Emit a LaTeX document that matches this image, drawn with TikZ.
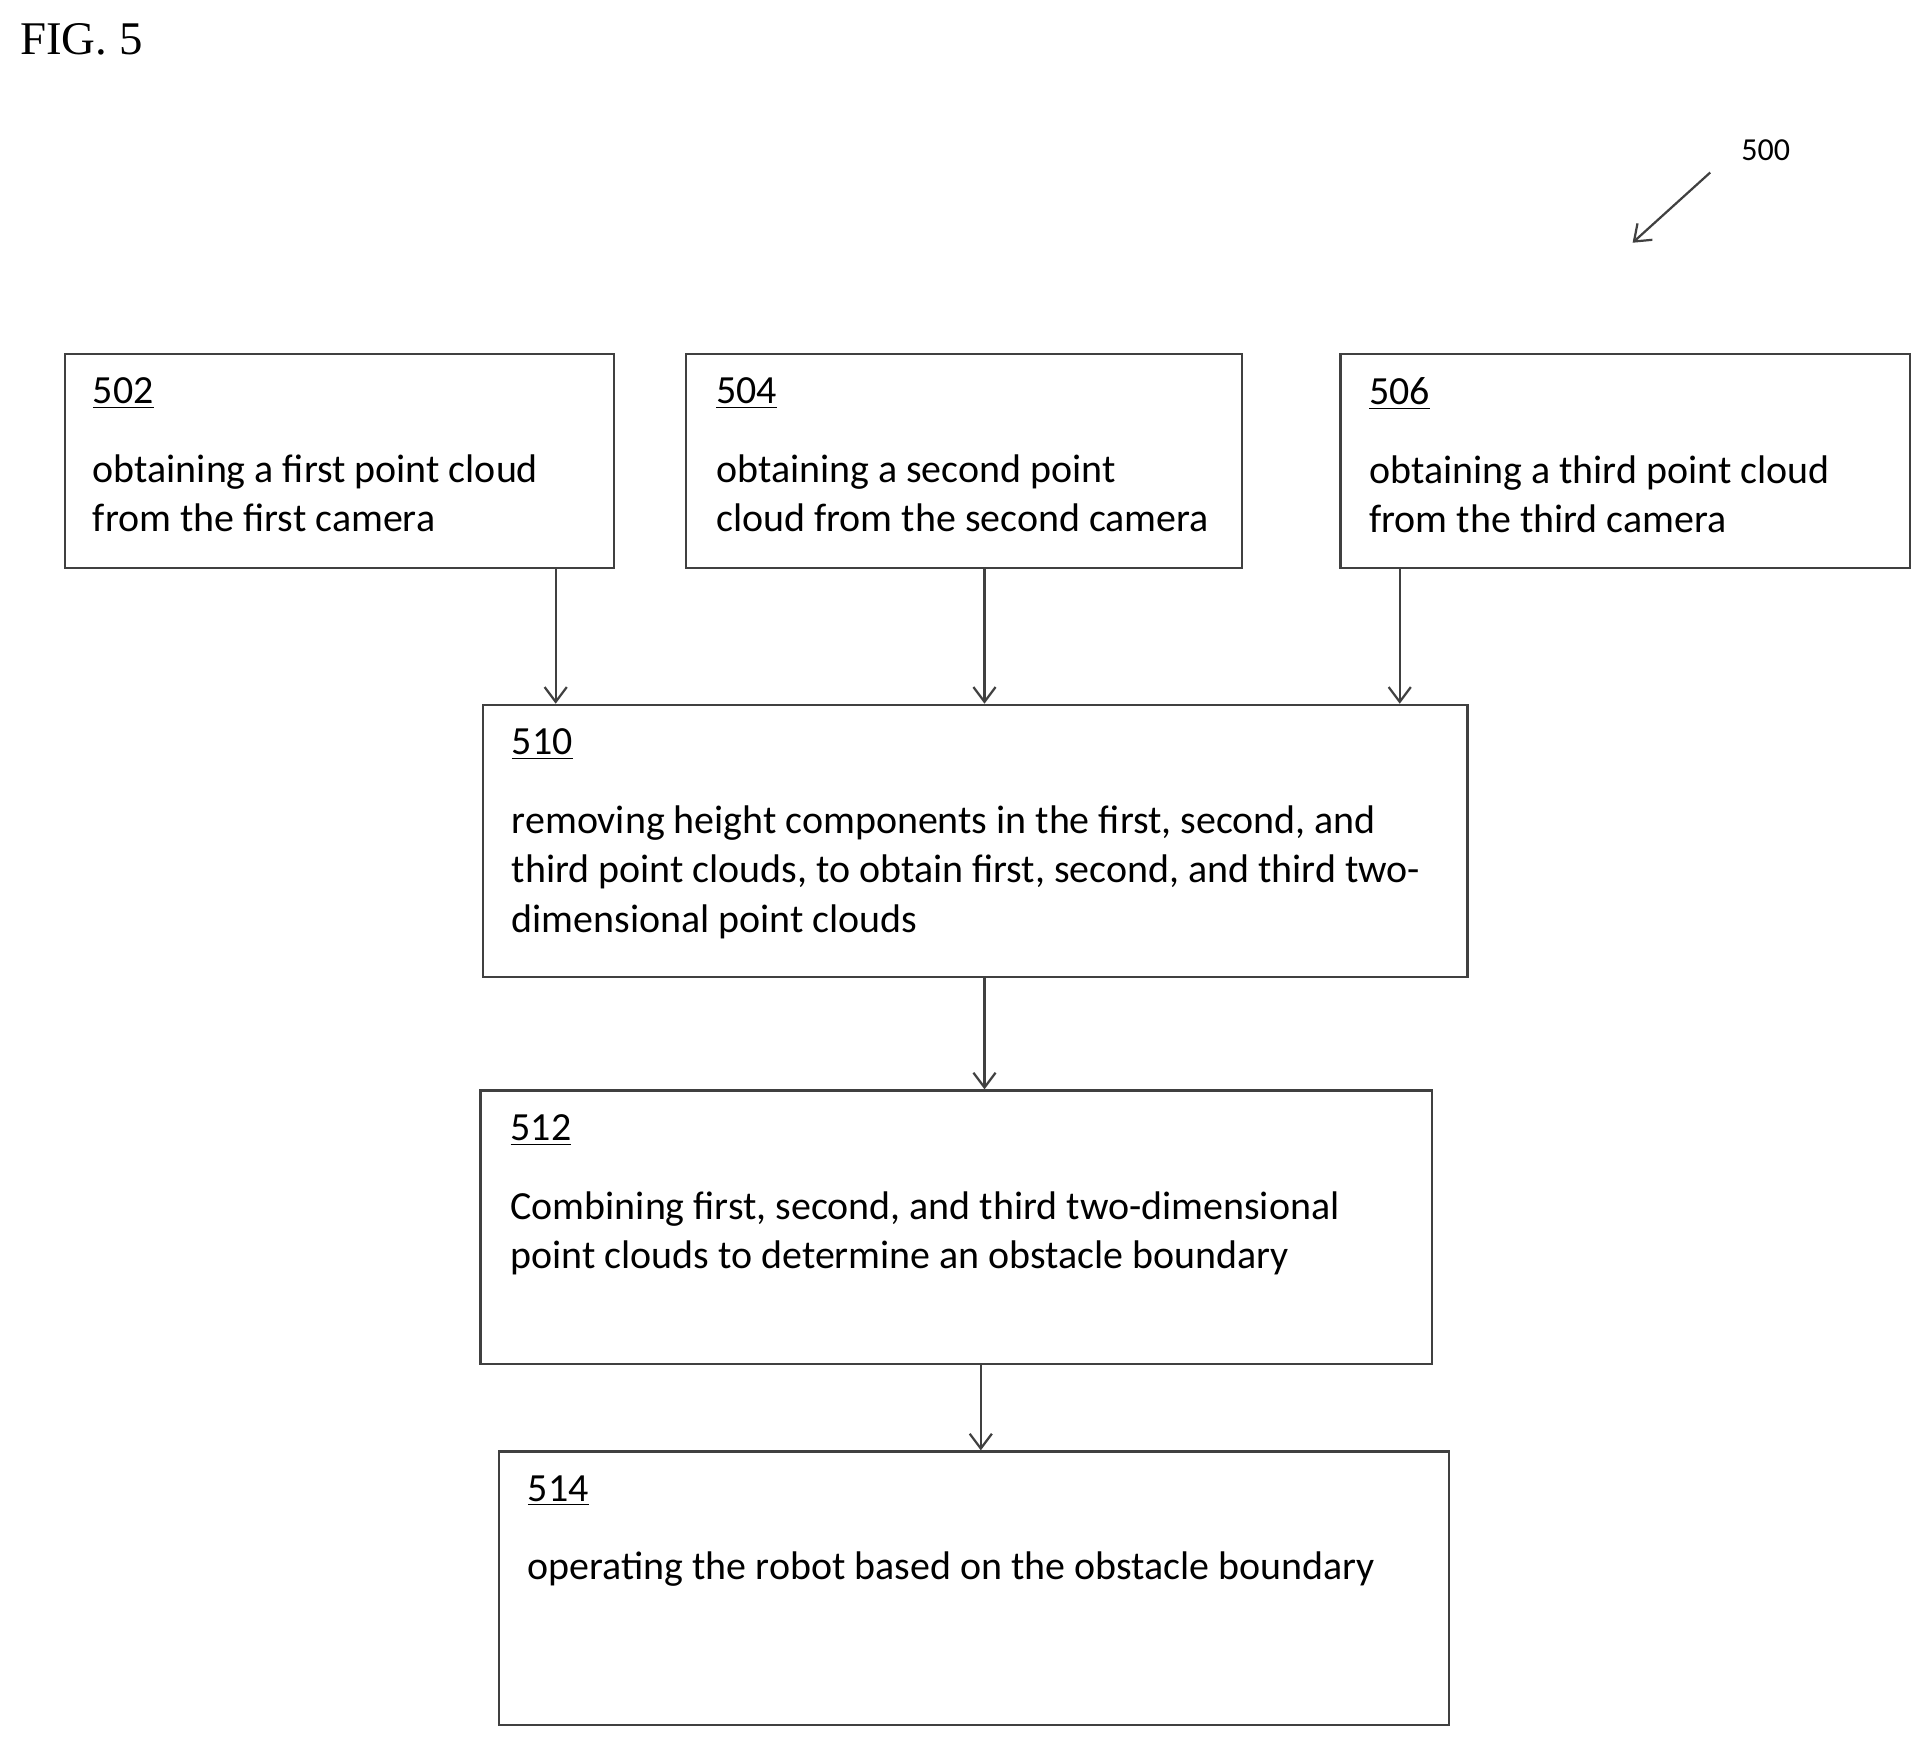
\documentclass[tikz,border=0pt]{standalone}
\usepackage{fontspec}
\setmainfont{Carlito}
\newfontfamily\figfont{Liberation Serif}
\usetikzlibrary{arrows.meta}
\begin{document}
\begin{tikzpicture}[x=0.5pt,y=0.5pt,yscale=-1,xscale=1,
  box/.style={draw=black!75,line width=0.9pt,inner sep=0pt},
  txt/.style={anchor=north west,align=left,font=\fontsize{16.2}{20}\selectfont,inner sep=0pt},
  flow/.style={draw=black!75,line width=0.9pt,-{Straight Barb[length=6pt,width=9pt]}}]
\useasboundingbox (0,0) rectangle (1568,1419);

%Title
\node[anchor=west,inner sep=0pt,font=\figfont\fontsize{19}{22}\selectfont] (fig) at (16,32) {FIG. 5};
%Reference numeral
\node[font=\fontsize{13}{14}\selectfont] (n500) at (1433,122) {500};
\coordinate (p500) at (1325,197);
\draw[flow] (1388,140) -- (p500);

%Boxes
\node[box,minimum width=222.5pt,minimum height=87pt] (b502) at (275.5,374) {};
\node[box,minimum width=225.5pt,minimum height=87pt] (b504) at (782.5,374) {};
\node[box,minimum width=231pt,minimum height=87pt] (b506) at (1319,374) {};
\node[box,minimum width=399.5pt,minimum height=110.5pt] (b510) at (791.5,682.5) {};
\node[box,minimum width=386pt,minimum height=111pt] (b512) at (776,996) {};
\node[box,minimum width=385.5pt,minimum height=111pt] (b514) at (790.5,1289) {};

%Texts
\node[txt] (t502) at (75,306) {\underline{502}\\[12pt]obtaining a first point cloud\\from the first camera};
\node[txt] (t504) at (581,306) {\underline{504}\\[12pt]obtaining a second point\\cloud from the second camera};
\node[txt] (t506) at (1111,306) {\underline{506}\\[12pt]obtaining a third point cloud\\from the third camera};
\node[txt] (t510) at (415,591) {\underline{510}\\[12pt]removing height components in the first, second, and\\third point clouds, to obtain first, second, and third two-\\dimensional point clouds};
\node[txt] (t512) at (414,904) {\underline{512}\\[12pt]Combining first, second, and third two-dimensional\\point clouds to determine an obstacle boundary};
\node[txt] (t514) at (428,1197) {\underline{514}\\[12pt]operating the robot based on the obstacle boundary};

%Connectors
\draw[flow] (b502.south -| 451,0) -- (b510.north -| 451,0);
\draw[flow] (b504.south -| 799,0) -- (b510.north -| 799,0);
\draw[flow] (b506.south -| 1136,0) -- (b510.north -| 1136,0);
\draw[flow] (b510.south -| 799,0) -- (b512.north -| 799,0);
\draw[flow] (b512.south -| 796,0) -- (b514.north -| 796,0);
\end{tikzpicture}
\end{document}
